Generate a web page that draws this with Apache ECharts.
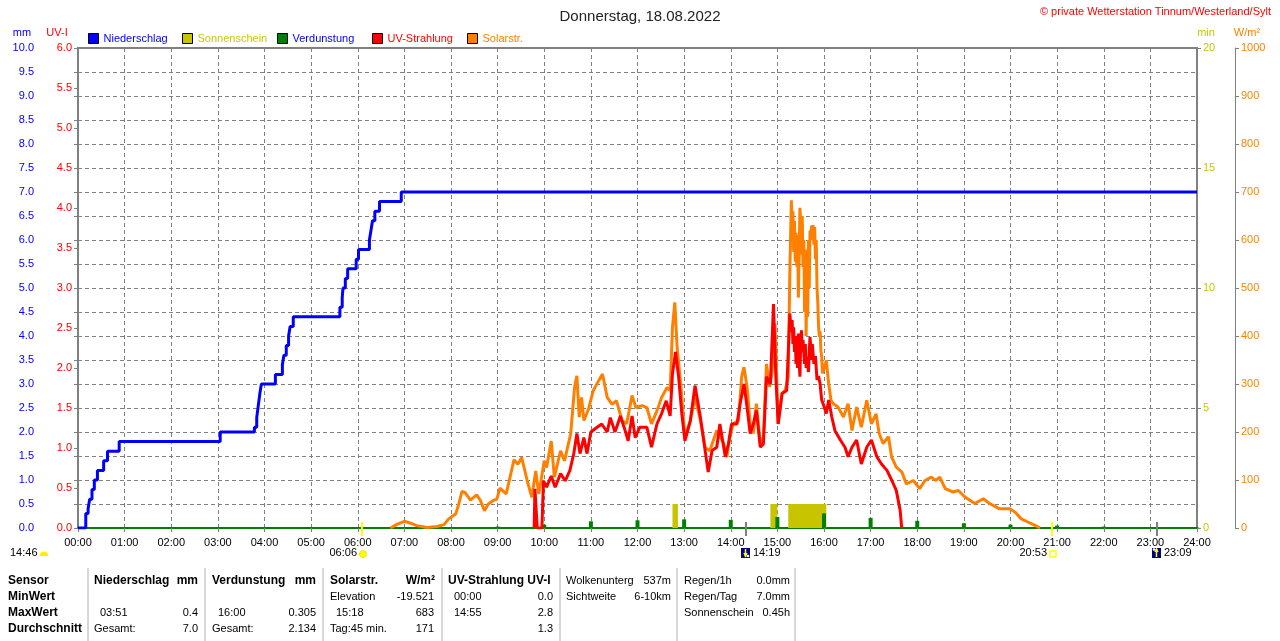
<!DOCTYPE html>
<html>
<head>
<meta charset="utf-8">
<title>Donnerstag, 18.08.2022</title>
<script src="https://cdn.jsdelivr.net/npm/echarts@6/dist/echarts.min.js"></script>
<style>
html,body{margin:0;padding:0;background:#fff;}
#main{width:1280px;height:641px;}
</style>
</head>
<body>
<div id="main"></div>
<script>
// Zeiten in Minuten seit 00:00

// Niederschlag, Tagessumme in mm
var rainTime = [0,10,13,15,18,21,25,33,38,53,183,227,230,232,234,236,254,263,265,268,271,273,277,337,340,341,344,347,358,361,375,377,379,382,388,416,1440];
var rainSum  = [0,0.3,0.4,0.6,0.8,1.0,1.2,1.4,1.6,1.8,2.0,2.1,2.3,2.55,2.8,3.0,3.2,3.4,3.6,3.8,4.0,4.2,4.4,4.6,4.8,5.0,5.2,5.4,5.6,5.8,6.0,6.2,6.4,6.6,6.8,7.0,7.0];

// Solarstrahlung W/m2
var solarTime = [402,411,420,428,436,449,462,471,477,486,490,494,498,505,513,518,523,528,535,539,543,551,556,561,566,571,578,584,589,593,600,603,609,613,621,626,630,634,639,642,645,648,651,657,663,670,675,681,687,693,700,706,713,718,726,732,738,745,751,758,762,765,768,771,776,781,788,794,801,807,813,822,831,835,839,843,850,854,857,861,865,869,873,878,882,886,890,893,897,901,906,910,914,
    916,918,919,920,921,922,923,924,925,926,927,928,929,930,931,932,933,934,935,936,937,938,939,940,941,942,943,944,945,946,947,948,949,950,951,952,953,954,955,956,957,958,
    963,966,969,972,978,985,991,996,1002,1008,1015,1021,1027,1031,1036,1043,1047,1053,1060,1066,1075,1083,1090,1098,1104,1109,1116,1126,1133,1141,1154,1165,1173,1186,1199,1206,1214,1223,1231,1238];
var solarVal  = [0,8,14,10,5,1,3,7,19,29,50,76,74,58,69,57,36,50,58,60,83,71,106,142,133,147,99,64,119,71,140,126,181,106,161,140,168,196,293,317,231,272,224,248,286,307,321,272,258,265,224,217,276,251,255,251,217,244,272,293,286,418,470,376,293,189,224,272,224,168,161,203,176,148,190,217,224,315,335,294,217,197,259,176,190,342,294,322,426,217,280,287,315,
    530,683,600,660,575,640,555,615,545,610,480,570,667,640,570,650,544,600,450,580,400,540,440,600,500,620,610,630,600,631,590,627,560,600,500,470,420,398,410,370,357,322,
    349,301,266,259,252,231,259,203,252,210,266,217,238,197,176,190,148,127,117,92,99,82,99,106,99,106,82,75,78,65,51,61,51,40,40,33,19,12,6,0];

// UV-Strahlung UV-I
var uvTime = [587,588,590,591,597,599,603,609,614,621,627,633,638,642,646,651,655,660,668,674,681,685,691,698,704,708,713,717,723,732,738,745,751,757,762,765,769,773,777,781,788,794,801,807,811,816,822,826,833,837,841,848,852,857,861,865,869,873,878,882,886,891,895,898,901,906,
    912,916,918,919,920,921,922,923,924,925,926,927,928,929,930,931,932,933,935,936,937,938,940,941,942,944,945,947,949,951,953,955,957,959,
    963,966,970,974,981,987,991,996,1002,1008,1015,1021,1028,1034,1041,1047,1053,1058,1060];
var uvVal  = [0,0.49,0.49,0,0,0.59,0.51,0.65,0.51,0.68,0.59,0.72,0.93,1.18,0.93,1.13,0.93,1.2,1.26,1.3,1.2,1.38,1.2,1.4,1.22,1.09,1.4,1.13,1.26,1.26,1.01,1.3,1.43,1.59,1.4,1.93,2.2,1.88,1.43,1.09,1.34,1.78,1.38,0.97,0.7,0.97,1.01,1.3,0.89,1.05,1.3,1.3,1.55,1.8,1.51,1.18,1.3,1.47,1.01,1.05,1.89,1.8,2.8,1.89,1.3,1.68,
    1.72,2.68,2.45,2.6,2.3,2.51,2.2,2.4,2.05,2.3,2.0,2.43,2.1,1.89,2.3,2.47,2.2,2.35,2.05,2.3,2.0,2.14,1.95,2.2,2.39,2.1,2.3,2.05,2.15,1.85,1.9,1.8,1.6,1.55,
    1.43,1.6,1.39,1.22,1.1,1.01,0.89,1.01,1.1,0.8,1.01,1.1,0.89,0.8,0.72,0.6,0.47,0.22,0];

// Verdunstung je Stunde in mm
var evapTime = [60,120,180,240,300,360,420,480,540,600,660,720,780,840,900,960,1020,1080,1140,1200,1260,1320,1380,1440];
var evapVal  = [0.01,0.01,0.01,0.01,0.01,0.01,0.01,0.01,0.03,0.07,0.14,0.16,0.18,0.17,0.23,0.305,0.21,0.15,0.1,0.07,0.05,0.03,0.02,0.01];

// Sonnenschein (Beginn, Ende, Minuten)
var sunStart = [765,891,914];
var sunEnd   = [772,900,963];
var sunMin   = [1,1,1];

// Auf-/Untergang
var markTime  = [366,859,1253,1389];
var markLabel = ['06:06','14:19','20:53','23:09'];
var markKind  = ['sun','moonDown','sunset','moonUp'];

var legendNames = ['Niederschlag','Sonnenschein','Verdunstung','UV-Strahlung','Solarstr.'];
var legendTextColor = ['#0000ff','#c8c800','#0000ff','#ff0000','#ff8000'];
var legendLeft = [88,182,277,372,467];

var FONT = "'Liberation Sans', Arial, sans-serif";
var grey = '#808080';
var dash = [4,3];

function zip(t, v){
    var a = [];
    for(var i=0;i<t.length;i++){ a.push([t[i], v[i]]); }
    return a;
}
function hhmm(m){
    var h = Math.floor(m/60), mm = m%60;
    return (h<10?'0':'') + h + ':' + (mm<10?'0':'') + mm;
}
function fmt1(v){ return v.toFixed(1); }
function fmt0(v){ return String(v); }

var sunData = [];
for(var i=0;i<sunStart.length;i++){ sunData.push([sunStart[i], sunEnd[i], sunMin[i]]); }

var myChart = echarts.init(document.getElementById('main'));

var option = {
    animation: false,
    backgroundColor: '#fff',
    textStyle: {fontFamily: FONT},
    title: {
        text: 'Donnerstag, 18.08.2022',
        left: 'center',
        top: 4,
        textStyle: {fontSize: 15, fontWeight: 'normal', color: '#222', fontFamily: FONT}
    },
    legend: legendNames.map(function(n, i){
        return {
            data: [{name: n, textStyle: {color: legendTextColor[i]}}],
            left: legendLeft[i],
            top: 33,
            padding: 0,
            itemWidth: 10,
            itemHeight: 10,
            icon: 'rect',
            selectedMode: false,
            itemStyle: {borderColor: '#000', borderWidth: 1},
            textStyle: {fontSize: 11, fontFamily: FONT}
        };
    }),
    grid: {left: 78, right: 83, top: 48, bottom: 113, show: true, borderColor: grey, borderWidth: 2},
    xAxis: {
        type: 'value', min: 0, max: 1440, interval: 60,
        axisLine: {lineStyle: {color: '#008000', width: 2}},
        axisTick: {length: 4, lineStyle: {color: grey}},
        axisLabel: {color: '#000', fontSize: 11, margin: 9, formatter: function(v){ return hhmm(v); }},
        splitLine: {show: true, lineStyle: {color: grey, type: dash}}
    },
    yAxis: [
        {
            type: 'value', position: 'left', offset: 38, min: 0, max: 10, interval: 0.5,
            axisLine: {show: true, lineStyle: {color: grey, width: 1}},
            axisTick: {show: true, length: 4, lineStyle: {color: grey}},
            axisLabel: {color: '#0000ff', fontSize: 11, margin: 6, formatter: fmt1},
            splitLine: {show: true, lineStyle: {color: grey, type: dash}}
        },
        {
            type: 'value', position: 'left', offset: 0, min: 0, max: 6, interval: 0.5,
            axisLine: {show: true, lineStyle: {color: grey, width: 2}},
            axisTick: {show: true, length: 4, lineStyle: {color: grey}},
            axisLabel: {color: '#ff0000', fontSize: 11, margin: 6, formatter: fmt1},
            splitLine: {show: false}
        },
        {
            type: 'value', position: 'right', offset: 0, min: 0, max: 20, interval: 5,
            axisLine: {show: true, lineStyle: {color: grey, width: 2}},
            axisTick: {show: true, length: 4, lineStyle: {color: grey}},
            axisLabel: {color: '#c8c800', fontSize: 11, margin: 6, formatter: fmt0},
            splitLine: {show: false}
        },
        {
            type: 'value', position: 'right', offset: 38, min: 0, max: 1000, interval: 100,
            axisLine: {show: true, lineStyle: {color: grey, width: 1}},
            axisTick: {show: true, length: 4, lineStyle: {color: grey}},
            axisLabel: {color: '#ff8000', fontSize: 11, margin: 6, formatter: fmt0},
            splitLine: {show: false}
        }
    ],
    series: [
        {
            name: 'Sonnenschein',
            type: 'custom',
            yAxisIndex: 2,
            z: 1,
            itemStyle: {color: '#c8c400'},
            encode: {x: [0, 1], y: 2},
            renderItem: function(params, api){
                var p0 = api.coord([api.value(0), api.value(2)]);
                var p1 = api.coord([api.value(1), 0]);
                return {
                    type: 'rect',
                    shape: {x: p0[0], y: p0[1], width: p1[0]-p0[0], height: p1[1]-p0[1]},
                    style: {fill: '#c8c400'}
                };
            },
            data: sunData
        },
        {
            name: 'Verdunstung',
            type: 'bar',
            yAxisIndex: 0,
            z: 2,
            barWidth: 4,
            itemStyle: {color: '#008000'},
            data: zip(evapTime, evapVal)
        },
        {
            name: 'Solarstr.',
            type: 'line',
            yAxisIndex: 3,
            z: 3,
            symbol: 'none',
            itemStyle: {color: '#ff8000'},
            lineStyle: {color: '#ff8000', width: 3},
            data: zip(solarTime, solarVal)
        },
        {
            name: 'UV-Strahlung',
            type: 'line',
            yAxisIndex: 1,
            z: 4,
            symbol: 'none',
            itemStyle: {color: '#ff0000'},
            lineStyle: {color: '#ff0000', width: 3},
            data: zip(uvTime, uvVal)
        },
        {
            name: 'Niederschlag',
            type: 'line',
            yAxisIndex: 0,
            z: 5,
            step: 'end',
            symbol: 'none',
            itemStyle: {color: '#0000ff'},
            lineStyle: {color: '#0000ff', width: 3},
            data: zip(rainTime, rainSum)
        }
    ]
};

myChart.setOption(option);

// Beschriftungen, Auf-/Untergang und Tabelle
function txt(x, y, s, color, align, bold, size){
    return {
        type: 'text', x: x, y: y, z: 100,
        style: {
            text: s, fill: color, align: align || 'left', verticalAlign: 'middle',
            font: (bold ? 'bold ' : '') + (size || 11) + 'px ' + FONT
        }
    };
}

var g = [];
g.push(txt(1271, 12, '\u00A9 private Wetterstation Tinnum/Westerland/Sylt', '#ff0000', 'right', false, 11));
g.push(txt(22, 33, 'mm', '#0000ff', 'center'));
g.push(txt(57, 33, 'UV-I', '#ff0000', 'center'));
g.push(txt(1206, 33, 'min', '#c8c800', 'center'));
g.push(txt(1247, 33, 'W/m\u00B2', '#ff8000', 'center'));

// links: 14:46
g.push(txt(10, 553, '14:46', '#000', 'left'));
g.push({type: 'sector', z: 100, shape: {cx: 44, cy: 556, r0: 0, r: 4.5, startAngle: Math.PI, endAngle: Math.PI*2}, style: {fill: '#ffee00'}});

for(var k=0;k<markTime.length;k++){
    var x = Math.round(myChart.convertToPixel({xAxisIndex: 0}, markTime[k]));
    var kind = markKind[k];
    var tickColor = (kind === 'sun' || kind === 'sunset') ? '#ffff00' : grey;
    g.push({type: 'line', z: 90, shape: {x1: x, y1: 522, x2: x, y2: 536}, style: {stroke: tickColor, lineWidth: 2}});
    if(kind === 'sun'){
        g.push({type: 'circle', z: 100, shape: {cx: x+1, cy: 554, r: 3.5}, style: {fill: '#ffff00', stroke: '#e8e800', lineWidth: 1}});
        g.push(txt(x-5, 553, markLabel[k], '#000', 'right'));
    }else if(kind === 'sunset'){
        g.push({type: 'rect', z: 100, shape: {x: x-2, y: 551, width: 6, height: 6}, style: {fill: 'none', stroke: '#ffff00', lineWidth: 1.5}});
        g.push(txt(x-5, 553, markLabel[k], '#000', 'right'));
    }else{
        g.push({type: 'rect', z: 100, shape: {x: x-5, y: 548, width: 9, height: 10}, style: {fill: '#000080'}});
        var up = kind === 'moonUp';
        g.push({type: 'polyline', z: 101, shape: {points: up ? [[x-2,552],[x-0.5,549],[x+1,552]] : [[x-2,553],[x-0.5,556],[x+1,553]]}, style: {stroke: '#ffff00', fill: 'none', lineWidth: 1.5}});
        g.push({type: 'line', z: 101, shape: {x1: x-0.5, y1: 549, x2: x-0.5, y2: 557}, style: {stroke: '#ffff00', lineWidth: 1.5}});
        g.push({type: 'circle', z: 101, shape: {cx: up ? x-3 : x+2, cy: up ? 549.5 : 556, r: 1.3}, style: {fill: '#fff'}});
        g.push(txt(x+7, 553, markLabel[k], '#000', 'left'));
    }
}

// Tabelle unten
var sepX = [88,205,323,442,560,677,795];
sepX.forEach(function(sx){
    g.push({type: 'line', z: 90, shape: {x1: sx, y1: 568, x2: sx, y2: 641}, style: {stroke: '#b0b0b0', lineWidth: 1}});
});

var rowY = [581,597,613,629];
var cells = [
    [0,8,'Sensor','left',1],[0,94,'Niederschlag','left',1],[0,198,'mm','right',1],
    [0,212,'Verdunstung','left',1],[0,316,'mm','right',1],
    [0,330,'Solarstr.','left',1],[0,435,'W/m\u00B2','right',1],
    [0,448,'UV-Strahlung UV-I','left',1],
    [0,566,'Wolkenunterg','left',0],[0,671,'537m','right',0],
    [0,684,'Regen/1h','left',0],[0,790,'0.0mm','right',0],

    [1,8,'MinWert','left',1],
    [1,330,'Elevation','left',0],[1,434,'-19.521','right',0],
    [1,454,'00:00','left',0],[1,553,'0.0','right',0],
    [1,566,'Sichtweite','left',0],[1,671,'6-10km','right',0],
    [1,684,'Regen/Tag','left',0],[1,790,'7.0mm','right',0],

    [2,8,'MaxWert','left',1],
    [2,100,'03:51','left',0],[2,198,'0.4','right',0],
    [2,218,'16:00','left',0],[2,316,'0.305','right',0],
    [2,336,'15:18','left',0],[2,434,'683','right',0],
    [2,454,'14:55','left',0],[2,553,'2.8','right',0],
    [2,684,'Sonnenschein','left',0],[2,790,'0.45h','right',0],

    [3,8,'Durchschnitt','left',1],
    [3,94,'Gesamt:','left',0],[3,198,'7.0','right',0],
    [3,212,'Gesamt:','left',0],[3,316,'2.134','right',0],
    [3,330,'Tag:45 min.','left',0],[3,434,'171','right',0],
    [3,553,'1.3','right',0]
];
cells.forEach(function(c){
    g.push(txt(c[1], rowY[c[0]], c[2], '#000', c[3], c[4] === 1, c[4] === 1 ? 12 : 11));
});

myChart.setOption({graphic: g});
</script>
</body>
</html>
